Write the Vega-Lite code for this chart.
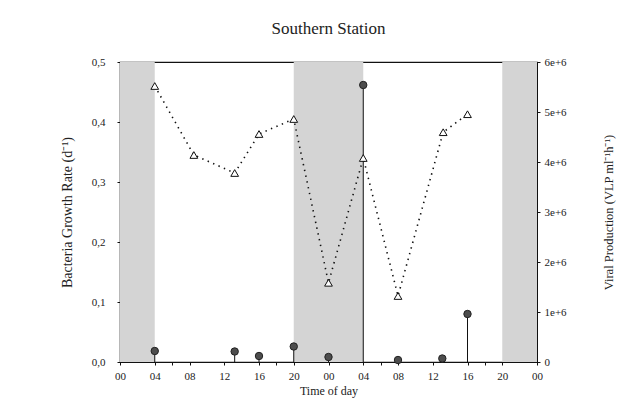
{
  "$schema": "https://vega.github.io/schema/vega-lite/v6.json",
  "width": 417,
  "height": 300,
  "autosize": {"type": "none"},
  "padding": {"left": 120, "top": 62, "right": 95, "bottom": 41},
  "background": "white",
  "title": {
    "text": "Southern Station",
    "font": "Liberation Serif",
    "fontSize": 17,
    "fontWeight": "normal",
    "color": "#222",
    "anchor": "middle",
    "offset": 18
  },
  "datasets": {
    "night": [
      {"start": 0, "end": 4},
      {"start": 20, "end": 28},
      {"start": 44, "end": 48}
    ],
    "bacteria": [
      {"hour": 4, "growth": 0.46},
      {"hour": 8.5, "growth": 0.345},
      {"hour": 13.2, "growth": 0.315},
      {"hour": 16, "growth": 0.38},
      {"hour": 20, "growth": 0.405},
      {"hour": 24, "growth": 0.132},
      {"hour": 28, "growth": 0.34},
      {"hour": 32, "growth": 0.11},
      {"hour": 37.2, "growth": 0.383},
      {"hour": 40, "growth": 0.413}
    ],
    "viral": [
      {"hour": 4, "vp": 220000},
      {"hour": 13.2, "vp": 210000},
      {"hour": 16, "vp": 120000},
      {"hour": 20, "vp": 310000},
      {"hour": 24, "vp": 100000},
      {"hour": 28, "vp": 5540000},
      {"hour": 32, "vp": 40000},
      {"hour": 37.1, "vp": 70000},
      {"hour": 40, "vp": 960000}
    ]
  },
  "encoding": {
    "x": {
      "field": "hour",
      "type": "quantitative",
      "scale": {"domain": [0, 48], "nice": false, "zero": false},
      "axis": {
        "title": "Time of day",
        "values": [0, 4, 6, 8, 12, 16, 18, 20, 24, 28, 30, 32, 36, 40, 42, 44, 48],
        "labelExpr": "datum.value % 4 == 0 ? ((datum.value % 24) < 10 ? '0' : '') + (datum.value % 24) : ''",
        "grid": false,
        "tickSize": 3,
        "labelPadding": 5,
        "titlePadding": 4,
        "labelFlush": false,
        "labelOverlap": false
      }
    }
  },
  "layer": [
    {
      "data": {"name": "night"},
      "mark": {"type": "rect", "color": "#d4d4d4"},
      "encoding": {
        "x": {"field": "start", "type": "quantitative"},
        "x2": {"field": "end"}
      }
    },
    {
      "data": {"name": "viral"},
      "layer": [
        {
          "mark": {"type": "rule", "color": "#111", "strokeWidth": 1},
          "encoding": {
            "y": {
              "field": "vp",
              "type": "quantitative",
              "scale": {"domain": [0, 6000000], "nice": false},
              "axis": {
                "orient": "right",
                "title": "Viral Production (VLP ml⁻¹h⁻¹)",
                "titleFontSize": 12.5,
                "values": [0, 1000000, 2000000, 3000000, 4000000, 5000000, 6000000],
                "labelExpr": "datum.value == 0 ? '0' : format(datum.value / 1000000, 'd') + 'e+6'",
                "grid": false,
                "tickSize": 3,
                "labelPadding": 4,
                "titleAngle": 270,
                "titleBaseline": "top",
                "titlePadding": 36
              }
            },
            "y2": {"datum": 0}
          }
        },
        {
          "mark": {"type": "point", "shape": "circle", "filled": true, "color": "#4d4d4d", "stroke": "#222", "strokeWidth": 1, "size": 55, "opacity": 1},
          "encoding": {
            "y": {"field": "vp", "type": "quantitative"}
          }
        }
      ]
    },
    {
      "data": {"name": "bacteria"},
      "layer": [
        {
          "mark": {"type": "line", "color": "#111", "strokeWidth": 1.6, "strokeDash": [1.4, 4.5], "strokeCap": "butt"},
          "encoding": {
            "y": {
              "field": "growth",
              "type": "quantitative",
              "scale": {"domain": [0, 0.5], "nice": false},
              "axis": {
                "orient": "left",
                "title": "Bacteria Growth Rate (d⁻¹)",
                "titleFontSize": 14,
                "values": [0, 0.1, 0.2, 0.3, 0.4, 0.5],
                "labelExpr": "replace(format(datum.value, '.1f'), '.', ',')",
                "grid": false,
                "tickSize": 3,
                "labelPadding": 12,
                "titlePadding": 17
              }
            }
          }
        },
        {
          "mark": {"type": "point", "shape": "triangle-up", "filled": true, "fill": "white", "stroke": "#111", "strokeWidth": 1, "size": 60, "opacity": 1},
          "encoding": {
            "y": {"field": "growth", "type": "quantitative"}
          }
        }
      ],
      "resolve": {"scale": {"y": "shared"}}
    }
  ],
  "resolve": {"scale": {"y": "independent"}},
  "config": {
    "view": {"stroke": "#111", "strokeWidth": 1.2},
    "font": "Liberation Serif",
    "axis": {
      "domainColor": "#111",
      "tickColor": "#111",
      "labelColor": "#222",
      "titleColor": "#222",
      "labelFont": "Liberation Serif",
      "titleFont": "Liberation Serif",
      "labelFontSize": 11,
      "titleFontSize": 12,
      "titleFontWeight": "normal"
    }
  }
}
